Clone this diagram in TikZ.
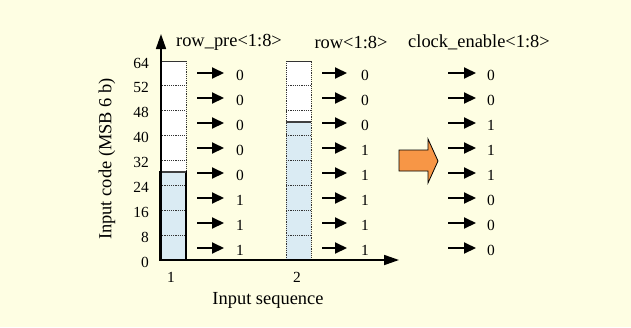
\documentclass[tikz,border=0pt]{standalone}
\usepackage{fontspec}
\setmainfont{Liberation Serif}
\usetikzlibrary{arrows.meta}
\definecolor{bgyellow}{HTML}{FEFEE3}
\definecolor{barblue}{HTML}{DAEBF3}
\definecolor{orangeA}{HTML}{F79646}
\tikzset{
  x=1bp, y=-1bp,
  big/.style={font=\fontsize{18.5}{20}\selectfont, inner sep=0pt},
  num/.style={font=\fontsize{15.5}{17}\selectfont, inner sep=0pt},
  axis/.style={line width=1.7bp, -{Triangle[length=15bp,width=10bp]}},
  rowarrow/.style={line width=2bp, -{Triangle[length=12bp,width=11bp]}},
  grid/.style={line width=0.8bp, dash pattern=on 1.2bp off 1bp, black!80},
  level/.style={line width=1.6bp, black!75},
}
\begin{document}
\begin{tikzpicture}
\fill[bgyellow] (0,0) rectangle (631,327);
\useasboundingbox (0,0) rectangle (631,327);
% bars fills
\fill[barblue] (160,172) rectangle (186,260);
\fill[barblue] (286,122) rectangle (311,260);
\fill[white] (160,61) rectangle (186,172);
\fill[white] (286,61) rectangle (311,122);
% gridlines
\foreach \k in {0,...,7} {
  \pgfmathsetmacro{\yy}{61+\k*24.875}
  \draw[grid] (160,\yy) -- (186,\yy);
  \draw[grid] (286,\yy) -- (311,\yy);
}
% bar outlines
\draw[grid] (160,172) -- (160,61) -- (186,61) -- (186,172);
\draw[line width=1.2bp] (160,172) rectangle (186,260);
\draw[grid] (286,260) -- (286,61) -- (311,61) -- (311,260);
\draw[level] (160,172) -- (186,172);
\draw[level] (286,122) -- (311,122);
% axes
\coordinate (O) at (161,260);
\coordinate (Ytop) at (161,34);
\coordinate (Xend) at (399,260);
\draw[axis] (O) -- (Ytop);
\draw[axis] ([xshift=-0.85bp]O) -- (Xend);
% tick labels
\foreach \lab [count=\k from 0] in {64,52,48,40,32,24,16,8,0} {
  \pgfmathsetmacro{\yy}{63+\k*24.875}
  \node[num, anchor=east] (t\k) at (149,\yy) {\lab};
}
\node[num] (x1) at (171,277) {1};
\node[num] (x2) at (297,277) {2};
\node[big] (xl) at (268,300) {Input sequence};
\node[big, rotate=90] (yl) at (107,159) {Input code (MSB 6 b)};
% titles
\node[big] (h1) at (229,42) {row\_pre<1:8>};
\node[big] (h2) at (351,42) {row<1:8>};
\node[big] (h3) at (479,42) {clock\_enable<1:8>};
% rows
\foreach \va/\vb/\vc [count=\k from 0] in {0/0/0,0/0/0,0/0/1,0/1/1,0/1/1,1/1/0,1/1/0,1/1/0} {
  \pgfmathsetmacro{\yy}{73+\k*25}
  \coordinate (a\k) at (197,\yy);
  \coordinate (ae\k) at (224,\yy);
  \coordinate (b\k) at (322,\yy);
  \coordinate (be\k) at (347,\yy);
  \coordinate (c\k) at (448,\yy);
  \coordinate (ce\k) at (476,\yy);
  \draw[rowarrow] (a\k) -- (ae\k);
  \draw[rowarrow] (b\k) -- (be\k);
  \draw[rowarrow] (c\k) -- (ce\k);
  \node[num] (va\k) at (240,\yy+2) {\va};
  \node[num] (vb\k) at (365,\yy+2) {\vb};
  \node[num] (vc\k) at (491,\yy+2) {\vc};
}
% big orange arrow
\draw[fill=orangeA, line width=0.8bp] (399,150) -- (428,150) -- (428,139) -- (438,161) -- (428,183) -- (428,171) -- (399,171) -- cycle;
\end{tikzpicture}
\end{document}
